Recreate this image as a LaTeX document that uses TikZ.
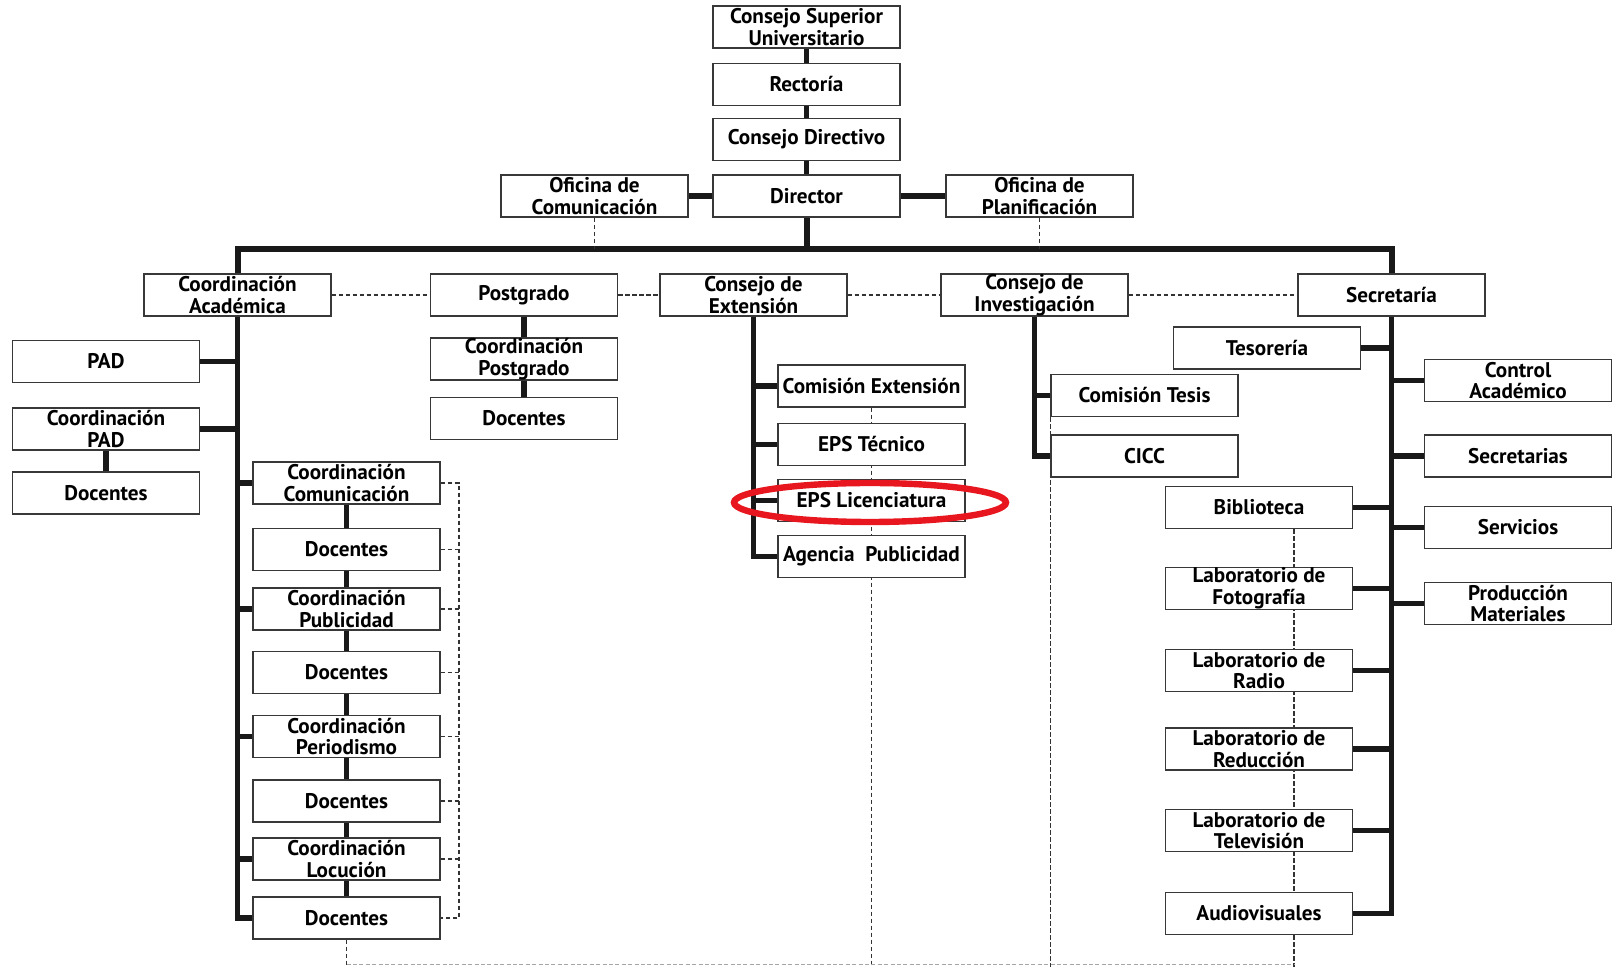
\documentclass[tikz,border=0pt]{standalone}
\usepackage{fontspec}
\setmainfont{PT Sans}
\usetikzlibrary{shapes.geometric}
\pgfdeclarelayer{bg}
\pgfsetlayers{bg,main}
\definecolor{hired}{RGB}{232,22,30}
\begin{document}
\begin{tikzpicture}[x=0.5pt,y=-0.5pt,
  box/.style={draw=black!78, line width=0.7pt, fill=white, minimum width=93.5pt, minimum height=21pt,
    inner sep=0pt, align=center, font=\bfseries\fontsize{10.6}{10.8}\selectfont},
  thickln/.style={line width=2.6pt, black!90},
  barln/.style={line width=3pt, black!90},
  dashln/.style={line width=0.65pt, black!80, dash pattern=on 2.2pt off 1.3pt},
  faintln/.style={line width=0.5pt, black!35, dash pattern=on 2pt off 1.2pt},
  highlight/.style={ellipse, draw=hired, line width=3.2pt, inner sep=0pt, minimum width=136pt, minimum height=19.5pt},
]
\useasboundingbox (0,0) rectangle (1618,967);

% top chain
\node[box] (csu) at (806.5,27) {Consejo Superior\\Universitario};
\node[box] (rect) at (806.5,84.5) {Rectoría};
\node[box] (cdir) at (806.5,139.5) {Consejo Directivo};
\node[box] (dir) at (806.5,196) {Director};
\node[box] (ofcom) at (594.5,196) {Oficina de\\Comunicación};
\node[box] (ofplan) at (1039.5,196) {Oficina de\\Planificación};

% second row
\node[box] (cacad) at (237.5,295) {Coordinación\\Académica};
\node[box] (postg) at (524,295) {Postgrado};
\node[box] (cext) at (753.5,295) {Consejo de\\Extensión};
\node[box] (cinv) at (1034.5,295) {Consejo de\\Investigación};
\node[box] (secr) at (1391.5,295) {Secretaría};

% Coordinación Académica branch
\node[box] (pad) at (106,361.5) {PAD};
\node[box] (cpad) at (106,429) {Coordinación\\PAD};
\node[box] (docpad) at (106,493) {Docentes};
\node[box] (ccom) at (346.5,483) {Coordinación\\Comunicación};
\node[box] (doc1) at (346.5,549.5) {Docentes};
\node[box] (cpub) at (346.5,609) {Coordinación\\Publicidad};
\node[box] (doc2) at (346.5,672.5) {Docentes};
\node[box] (cper) at (346.5,736.5) {Coordinación\\Periodismo};
\node[box] (doc3) at (346.5,801) {Docentes};
\node[box] (cloc) at (346.5,859) {Coordinación\\Locución};
\node[box] (doc4) at (346.5,918) {Docentes};

% Postgrado branch
\node[box] (cpost) at (524,359) {Coordinación\\Postgrado};
\node[box] (docpost) at (524,418.5) {Docentes};

% Extensión branch
\node[box] (comext) at (871.5,386) {Comisión Extensión};
\node[box] (epst) at (871.5,444.5) {EPS Técnico};
\node[box] (epsl) at (871.5,500.5) {EPS Licenciatura};
\node[box] (agen) at (871.5,556.5) {Agencia\ \ Publicidad};

% Investigación branch
\node[box] (comtesis) at (1144.5,395.5) {Comisión Tesis};
\node[box] (cicc) at (1144.5,456) {CICC};

% Secretaría branch
\node[box] (tes) at (1267,348) {Tesorería};
\node[box] (bib) at (1259,507.5) {Biblioteca};
\node[box] (labf) at (1259,588.5) {Laboratorio de\\Fotografía};
\node[box] (labr) at (1259,670.5) {Laboratorio de\\Radio};
\node[box] (labred) at (1259,749) {Laboratorio de\\Reducción};
\node[box] (labtv) at (1259,830.5) {Laboratorio de\\Televisión};
\node[box] (audio) at (1259,913.5) {Audiovisuales};
\node[box] (ctrl) at (1518,380.5) {Control\\Académico};
\node[box] (secs) at (1518,456) {Secretarias};
\node[box] (serv) at (1518,527.5) {Servicios};
\node[box] (prod) at (1518,603.5) {Producción\\Materiales};

\coordinate (bj) at (806.5,249);
\coordinate (brk) at (459,0);
\coordinate (bx) at (1294,0);
\coordinate (bot) at (0,964);
\coordinate (edge) at (0,967);

\begin{pgfonlayer}{bg}
% top chain
\draw[thickln] (csu.south) -- (rect.north);
\draw[thickln] (rect.south) -- (cdir.north);
\draw[thickln] (cdir.south) -- (dir.north);
\draw[thickln] (ofcom.east) -- (dir.west);
\draw[thickln] (dir.east) -- (ofplan.west);
\draw[barln] (dir.south) -- (bj);
\draw[barln] (cacad.north) |- (bj) -| (secr.north);
\draw[dashln] (ofcom.south) -- (ofcom.south |- bj);
\draw[dashln] (ofplan.south) -- (ofplan.south |- bj);

% second row dashed links
\draw[dashln] (cacad.east) -- (postg.west);
\draw[dashln] (postg.east) -- (cext.west);
\draw[dashln] (cext.east) -- (cinv.west);
\draw[dashln] (cinv.east) -- (secr.west);

% Coordinación Académica branch
\draw[thickln] (cacad.south) |- (doc4.west);
\foreach \n in {pad,cpad} \draw[thickln] (\n.east) -- (\n.east -| cacad.south);
\foreach \n in {ccom,cpub,cper,cloc} \draw[thickln] (\n.west) -- (\n.west -| cacad.south);
\draw[thickln] (cpad.south) -- (docpad.north);
\foreach \a/\b in {ccom/doc1,doc1/cpub,cpub/doc2,doc2/cper,cper/doc3,doc3/cloc,cloc/doc4}
  \draw[thickln] (\a.south) -- (\b.north);
\draw[dashln] (ccom.east) -- (ccom.east -| brk) -- (doc4.east -| brk) -- (doc4.east);
\foreach \n in {doc1,cpub,doc2,cper,doc3,cloc} \draw[dashln] (\n.east) -- (\n.east -| brk);
\draw[dashln] (doc4.south) -- (doc4.south |- edge);

% Postgrado branch
\draw[thickln] (postg.south) -- (cpost.north);
\draw[thickln] (cpost.south) -- (docpost.north);

% Extensión branch
\draw[thickln] (cext.south) |- (agen.west);
\foreach \n in {comext,epst,epsl} \draw[thickln] (\n.west) -- (\n.west -| cext.south);
\draw[dashln] (comext.south) -- (agen.south |- edge);

% Investigación branch
\draw[thickln] (cinv.south) |- (cicc.west);
\draw[thickln] (comtesis.west) -- (comtesis.west -| cinv.south);
\draw[dashln] (comtesis.south west) -- (comtesis.south west |- edge);

% Secretaría branch
\draw[thickln] (secr.south) |- (audio.east);
\foreach \n in {tes,bib,labf,labr,labred,labtv} \draw[thickln] (\n.east) -- (\n.east -| secr.south);
\foreach \n in {ctrl,secs,serv,prod} \draw[thickln] (\n.west) -- (\n.west -| secr.south);
\draw[dashln] (bib.south -| bx) -- (bx |- edge);

% faint bottom line
\draw[faintln] (doc4.south |- bot) -- (bx |- bot);
\end{pgfonlayer}

% highlight
\node[highlight] (hl) at (870,502.5) {};
\end{tikzpicture}
\end{document}
